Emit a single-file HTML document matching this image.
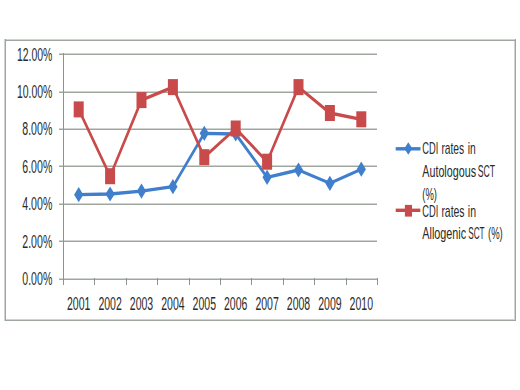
<!DOCTYPE html>
<html><head><meta charset="utf-8"><style>
html,body{margin:0;padding:0;background:#fff;}
svg{display:block;}
.t{font-family:"Liberation Sans",sans-serif;font-size:18px;fill:#2a2a2a;}
.l{font-family:"Liberation Sans",sans-serif;font-size:17px;fill:#2a2a2a;}
</style></head><body>
<svg width="520" height="390" viewBox="0 0 520 390">
<rect x="5" y="39" width="511" height="1" fill="#D0D4D0"/>
<rect x="5" y="319" width="511" height="1" fill="#D0D4D0"/>
<rect x="4" y="39" width="1" height="282" fill="#D0D4D0"/>
<rect x="514" y="39" width="1" height="282" fill="#D0D4D0"/>
<rect x="5" y="40" width="511" height="1" fill="#9EA69E"/>
<rect x="5" y="320" width="511" height="1" fill="#9EA69E"/>
<rect x="5" y="39" width="1" height="282" fill="#9EA69E"/>
<rect x="515" y="39" width="1" height="282" fill="#9EA69E"/>
<rect x="59" y="53" width="318.0" height="1" fill="#D0D4D0"/>
<rect x="59" y="54" width="318.0" height="1" fill="#9EA69E"/>
<rect x="59" y="91" width="318.0" height="1" fill="#D0D4D0"/>
<rect x="59" y="92" width="318.0" height="1" fill="#9EA69E"/>
<rect x="59" y="128" width="318.0" height="1" fill="#D0D4D0"/>
<rect x="59" y="129" width="318.0" height="1" fill="#9EA69E"/>
<rect x="59" y="165" width="318.0" height="1" fill="#D0D4D0"/>
<rect x="59" y="166" width="318.0" height="1" fill="#9EA69E"/>
<rect x="59" y="203" width="318.0" height="1" fill="#D0D4D0"/>
<rect x="59" y="204" width="318.0" height="1" fill="#9EA69E"/>
<rect x="59" y="240" width="318.0" height="1" fill="#D0D4D0"/>
<rect x="59" y="241" width="318.0" height="1" fill="#9EA69E"/>
<rect x="59" y="278" width="318.0" height="1" fill="#D0D4D0"/>
<rect x="59" y="279" width="318.0" height="1" fill="#9EA69E"/>
<rect x="63" y="53" width="1" height="232" fill="#8E948E"/>
<rect x="94" y="278" width="1" height="7" fill="#8E948E"/>
<rect x="126" y="278" width="1" height="7" fill="#8E948E"/>
<rect x="157" y="278" width="1" height="7" fill="#8E948E"/>
<rect x="189" y="278" width="1" height="7" fill="#8E948E"/>
<rect x="220" y="278" width="1" height="7" fill="#8E948E"/>
<rect x="251" y="278" width="1" height="7" fill="#8E948E"/>
<rect x="283" y="278" width="1" height="7" fill="#8E948E"/>
<rect x="314" y="278" width="1" height="7" fill="#8E948E"/>
<rect x="346" y="278" width="1" height="7" fill="#8E948E"/>
<rect x="377" y="278" width="1" height="7" fill="#8E948E"/>
<text x="52.3" y="60.5" text-anchor="end" textLength="35.4" lengthAdjust="spacingAndGlyphs" class="t">12.00%</text>
<text x="52.3" y="98.3" text-anchor="end" textLength="35.4" lengthAdjust="spacingAndGlyphs" class="t">10.00%</text>
<text x="52.3" y="135.2" text-anchor="end" textLength="30.0" lengthAdjust="spacingAndGlyphs" class="t">8.00%</text>
<text x="52.3" y="172.5" text-anchor="end" textLength="30.0" lengthAdjust="spacingAndGlyphs" class="t">6.00%</text>
<text x="52.3" y="210.2" text-anchor="end" textLength="30.0" lengthAdjust="spacingAndGlyphs" class="t">4.00%</text>
<text x="52.3" y="247.5" text-anchor="end" textLength="30.0" lengthAdjust="spacingAndGlyphs" class="t">2.00%</text>
<text x="52.3" y="284.5" text-anchor="end" textLength="30.0" lengthAdjust="spacingAndGlyphs" class="t">0.00%</text>
<text x="67.0" y="309.7" textLength="23.4" lengthAdjust="spacingAndGlyphs" class="t">2001</text>
<text x="98.4" y="309.7" textLength="23.4" lengthAdjust="spacingAndGlyphs" class="t">2002</text>
<text x="129.8" y="309.7" textLength="23.4" lengthAdjust="spacingAndGlyphs" class="t">2003</text>
<text x="161.2" y="309.7" textLength="23.4" lengthAdjust="spacingAndGlyphs" class="t">2004</text>
<text x="192.6" y="309.7" textLength="23.4" lengthAdjust="spacingAndGlyphs" class="t">2005</text>
<text x="224.0" y="309.7" textLength="23.4" lengthAdjust="spacingAndGlyphs" class="t">2006</text>
<text x="255.4" y="309.7" textLength="23.4" lengthAdjust="spacingAndGlyphs" class="t">2007</text>
<text x="286.8" y="309.7" textLength="23.4" lengthAdjust="spacingAndGlyphs" class="t">2008</text>
<text x="318.2" y="309.7" textLength="23.4" lengthAdjust="spacingAndGlyphs" class="t">2009</text>
<text x="349.6" y="309.7" textLength="23.4" lengthAdjust="spacingAndGlyphs" class="t">2010</text>
<g transform="scale(0.75,1)">
<polyline points="104.93,194.70 146.80,194.00 188.67,191.10 230.53,186.70 272.40,133.30 314.27,134.00 356.13,177.30 398.00,170.00 439.87,183.30 481.73,169.20" fill="none" stroke="#3F7FCB" stroke-width="3.3" stroke-linejoin="round"/>
</g>
<polygon points="78.70,187.10 83.30,194.70 78.70,202.30 74.10,194.70" fill="#3F7FCB"/>
<polygon points="110.10,186.40 114.70,194.00 110.10,201.60 105.50,194.00" fill="#3F7FCB"/>
<polygon points="141.50,183.50 146.10,191.10 141.50,198.70 136.90,191.10" fill="#3F7FCB"/>
<polygon points="172.90,179.10 177.50,186.70 172.90,194.30 168.30,186.70" fill="#3F7FCB"/>
<polygon points="204.30,125.70 208.90,133.30 204.30,140.90 199.70,133.30" fill="#3F7FCB"/>
<polygon points="235.70,126.40 240.30,134.00 235.70,141.60 231.10,134.00" fill="#3F7FCB"/>
<polygon points="267.10,169.70 271.70,177.30 267.10,184.90 262.50,177.30" fill="#3F7FCB"/>
<polygon points="298.50,162.40 303.10,170.00 298.50,177.60 293.90,170.00" fill="#3F7FCB"/>
<polygon points="329.90,175.70 334.50,183.30 329.90,190.90 325.30,183.30" fill="#3F7FCB"/>
<polygon points="361.30,161.60 365.90,169.20 361.30,176.80 356.70,169.20" fill="#3F7FCB"/>
<g transform="scale(0.75,1)">
<polyline points="104.93,109.40 146.80,176.20 188.67,100.10 230.53,87.10 272.40,157.20 314.27,128.50 356.13,161.70 398.00,87.10 439.87,113.00 481.73,119.30" fill="none" stroke="#C84A4A" stroke-width="3.3" stroke-linejoin="round"/>
</g>
<rect x="73.70" y="101.40" width="10.00" height="16.00" fill="#C84A4A"/>
<rect x="105.10" y="168.20" width="10.00" height="16.00" fill="#C84A4A"/>
<rect x="136.50" y="92.10" width="10.00" height="16.00" fill="#C84A4A"/>
<rect x="167.90" y="79.10" width="10.00" height="16.00" fill="#C84A4A"/>
<rect x="199.30" y="149.20" width="10.00" height="16.00" fill="#C84A4A"/>
<rect x="230.70" y="120.50" width="10.00" height="16.00" fill="#C84A4A"/>
<rect x="262.10" y="153.70" width="10.00" height="16.00" fill="#C84A4A"/>
<rect x="293.50" y="79.10" width="10.00" height="16.00" fill="#C84A4A"/>
<rect x="324.90" y="105.00" width="10.00" height="16.00" fill="#C84A4A"/>
<rect x="356.30" y="111.30" width="10.00" height="16.00" fill="#C84A4A"/>
<rect x="395.7" y="147.1" width="24.8" height="3.4" fill="#3F7FCB"/>
<polygon points="408.3,142.3 412.3,148.6 408.3,154.8 404.3,148.6" fill="#3F7FCB"/>
<rect x="395.7" y="208.6" width="24.6" height="3.4" fill="#C84A4A"/>
<rect x="404.9" y="204.9" width="7.1" height="11.7" fill="#C84A4A"/>
<text x="422.3" y="154.1" textLength="16.0" lengthAdjust="spacingAndGlyphs" class="l">CDI</text>
<text x="441.4" y="154.1" textLength="22.8" lengthAdjust="spacingAndGlyphs" class="l">rates</text>
<text x="467.8" y="154.1" textLength="8.0" lengthAdjust="spacingAndGlyphs" class="l">in</text>
<text x="422.3" y="177.3" textLength="53.7" lengthAdjust="spacingAndGlyphs" class="l">Autologous</text>
<text x="477.7" y="177.3" textLength="17.3" lengthAdjust="spacingAndGlyphs" class="l">SCT</text>
<text x="422.3" y="199.8" textLength="14.7" lengthAdjust="spacingAndGlyphs" class="l">(%)</text>
<text x="422.3" y="216.7" textLength="16.0" lengthAdjust="spacingAndGlyphs" class="l">CDI</text>
<text x="441.4" y="216.7" textLength="23.2" lengthAdjust="spacingAndGlyphs" class="l">rates</text>
<text x="467.8" y="216.7" textLength="8.2" lengthAdjust="spacingAndGlyphs" class="l">in</text>
<text x="422.3" y="239.3" textLength="43.8" lengthAdjust="spacingAndGlyphs" class="l">Allogenic</text>
<text x="468.2" y="239.3" textLength="16.4" lengthAdjust="spacingAndGlyphs" class="l">SCT</text>
<text x="488.0" y="239.3" textLength="14.8" lengthAdjust="spacingAndGlyphs" class="l">(%)</text>
</svg>
</body></html>
